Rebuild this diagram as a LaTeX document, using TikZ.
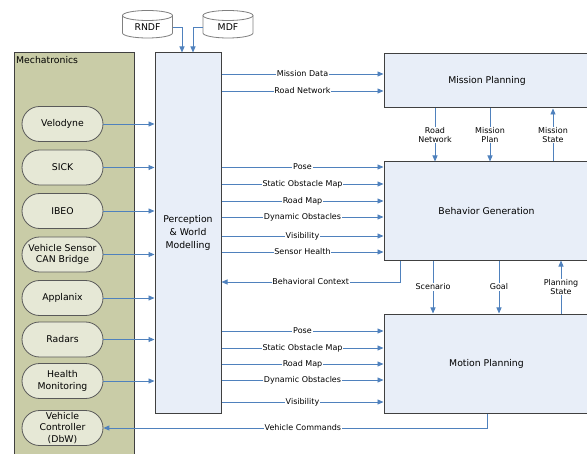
\documentclass[tikz,border=0pt]{standalone}
\usepackage{fontspec}
\setmainfont{DejaVu Sans}
\usetikzlibrary{arrows.meta,shapes.misc}
\definecolor{lnblue}{RGB}{79,129,189}
\definecolor{boxfill}{RGB}{232,238,248}
\definecolor{mechfill}{RGB}{201,204,167}
\definecolor{pillfill}{RGB}{230,232,214}
\definecolor{edgegray}{RGB}{64,64,64}
\tikzset{
  mainbox/.style={draw=edgegray, line width=1bp, fill=boxfill, inner sep=0pt,
    font=\fontsize{9.3bp}{13bp}\selectfont, align=center},
  pill/.style={rounded rectangle, draw=gray!70!black, line width=0.8bp, fill=pillfill,
    minimum width=81bp, minimum height=35bp, inner sep=0pt, align=center,
    font=\fontsize{9.3bp}{11.5bp}\selectfont},
  arr/.style={draw=lnblue, line width=0.9bp, -{Triangle[length=6bp,width=5bp]}, fill=none},
  lbl/.style={fill=white, inner sep=0.8bp, text=black, font=\fontsize{8bp}{9bp}\selectfont, align=center},
  cyl/.style={draw=gray, line width=0.8bp, fill=white},
}
\begin{document}
\begin{tikzpicture}[x=1bp,y=-1bp]
\useasboundingbox (0,0) rectangle (587,454);
\clip (0,0) rectangle (587,454);
% Mechatronics container
\draw[draw=edgegray, line width=1bp, fill=mechfill] (14,53) rectangle (134,470);
\node[anchor=north west, inner sep=0pt, font=\fontsize{9.3bp}{11bp}\selectfont] (mechtitle) at (16,56) {Mechatronics};
% Databases
\draw[cyl] (122.5,15.5) -- (122.5,33) arc[start angle=180, end angle=360, x radius=25bp, y radius=5bp] -- (172.5,15.5);
\draw[cyl] (147.5,15.5) ellipse [x radius=25bp, y radius=5bp];
\node[minimum width=50bp, minimum height=18bp, inner sep=0pt, font=\fontsize{9.3bp}{11bp}\selectfont] (rndf) at (147.5,27.5) {RNDF};
\draw[cyl] (203,15.5) -- (203,33) arc[start angle=180, end angle=360, x radius=25bp, y radius=5bp] -- (253,15.5);
\draw[cyl] (228,15.5) ellipse [x radius=25bp, y radius=5bp];
\node[minimum width=50bp, minimum height=18bp, inner sep=0pt, font=\fontsize{9.3bp}{11bp}\selectfont] (mdf) at (228,27.5) {MDF};
% Main boxes
\node[mainbox, minimum width=66bp, minimum height=360bp] (perc) at (188,233) {Perception\\\& World\\Modelling};
\node[mainbox, minimum width=208bp, minimum height=54bp] (mission) at (488,81) {\hspace*{-2bp}Mission Planning};
\node[mainbox, minimum width=208bp, minimum height=98bp] (behav) at (488,211) {\hspace*{-3bp}Behavior Generation};
\node[mainbox, minimum width=208bp, minimum height=99bp] (motion) at (488,363.5) {\hspace*{-3bp}Motion Planning};
% Pills
\node[pill] (velo) at (62.5,124) {Velodyne};
\node[pill] (sick) at (62.5,167.5) {SICK};
\node[pill] (ibeo) at (62.5,211) {IBEO};
\node[pill] (vscan) at (62.5,254.5) {Vehicle Sensor\\CAN Bridge};
\node[pill] (appl) at (62.5,298) {Applanix};
\node[pill] (radar) at (62.5,339.5) {Radars};
\node[pill] (health) at (62.5,381) {Health\\Monitoring};
\node[pill] (vctrl) at (62.5,428) {Vehicle\\Controller\\(DbW)};
% Pills to perception
\foreach \p in {velo,sick,ibeo,vscan,appl,radar,health}
  \draw[arr] (\p.east) -- (perc.west |- \p.east);
% Databases to perception
\draw[arr] (rndf.east) -| ([xshift=-6bp]perc.north);
\draw[arr] (mdf.west) -| ([xshift=5bp]perc.north);
% Perception to Mission Planning
\draw[arr] (perc.east |- 0,74) -- (mission.west |- 0,74) node[lbl, midway] {Mission Data};
\draw[arr] (perc.east |- 0,91) -- (mission.west |- 0,91) node[lbl, midway] {Road Network};
% Mission <-> Behavior
\draw[arr] (mission.south -| 435,0) -- (behav.north -| 435,0) node[lbl, midway] {Road\\Network};
\draw[arr] (mission.south -| 490,0) -- (behav.north -| 490,0) node[lbl, midway] {Mission\\Plan};
\draw[arr] (behav.north -| 553,0) -- (mission.south -| 553,0) node[lbl, midway] {Mission\\State};
% Perception to Behavior
\draw[arr] (perc.east |- 0,167) -- (behav.west |- 0,167) node[lbl, midway] {Pose};
\draw[arr] (perc.east |- 0,184) -- (behav.west |- 0,184) node[lbl, midway] {Static Obstacle Map};
\draw[arr] (perc.east |- 0,201) -- (behav.west |- 0,201) node[lbl, midway] {Road Map};
\draw[arr] (perc.east |- 0,217) -- (behav.west |- 0,217) node[lbl, midway] {Dynamic Obstacles};
\draw[arr] (perc.east |- 0,236) -- (behav.west |- 0,236) node[lbl, midway] {Visibility};
\draw[arr] (perc.east |- 0,252) -- (behav.west |- 0,252) node[lbl, midway] {Sensor Health};
% Behavioral context
\draw[arr] (behav.south -| 400,0) |- (perc.east |- 0,282) node[lbl, pos=0.75] {Behavioral Context};
% Behavior <-> Motion
\draw[arr] (behav.south -| 433,0) -- (motion.north -| 433,0) node[lbl, midway] {Scenario};
\draw[arr] (behav.south -| 499,0) -- (motion.north -| 499,0) node[lbl, midway] {Goal};
\draw[arr] (motion.north -| 561,0) -- (behav.south -| 561,0) node[lbl, midway] {Planning\\State};
% Perception to Motion
\draw[arr] (perc.east |- 0,331) -- (motion.west |- 0,331) node[lbl, midway] {Pose};
\draw[arr] (perc.east |- 0,348) -- (motion.west |- 0,348) node[lbl, midway] {Static Obstacle Map};
\draw[arr] (perc.east |- 0,364) -- (motion.west |- 0,364) node[lbl, midway] {Road Map};
\draw[arr] (perc.east |- 0,380) -- (motion.west |- 0,380) node[lbl, midway] {Dynamic Obstacles};
\draw[arr] (perc.east |- 0,402) -- (motion.west |- 0,402) node[lbl, midway] {Visibility};
% Vehicle commands
\draw[arr] (motion.south -| 487,0) |- (vctrl.east) node[lbl, pos=0.74] {Vehicle Commands};
\end{tikzpicture}
\end{document}
